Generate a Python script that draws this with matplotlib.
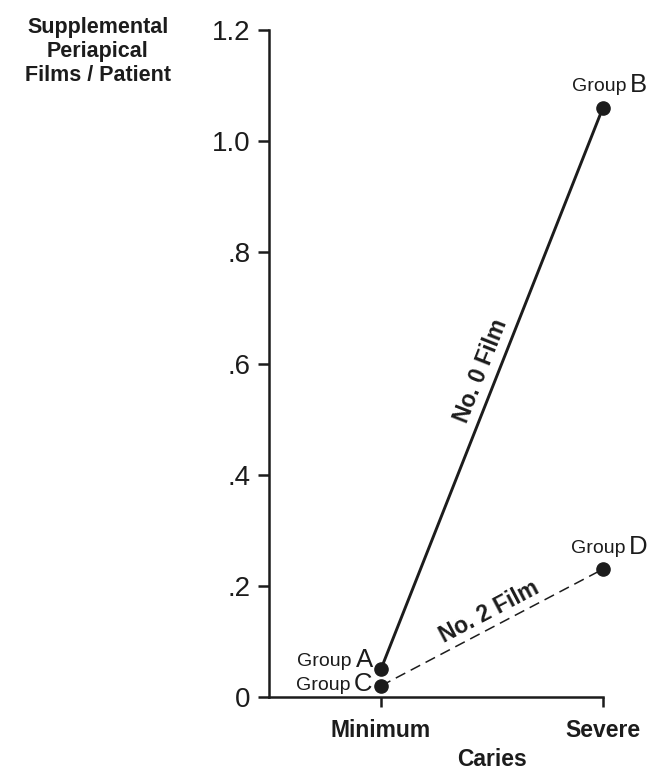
import numpy as np
import matplotlib
matplotlib.use("Agg")
import matplotlib.pyplot as plt
import matplotlib.transforms as mtransforms

# caries level on x, supplemental films per patient on y
caries = ["Minimum", "Severe"]
film0_groups = ["A", "B"]
film0_values = [0.05, 1.06]
film2_groups = ["C", "D"]
film2_values = [0.02, 0.23]
yticks = [0, 0.2, 0.4, 0.6, 0.8, 1.0, 1.2]
ytick_labels = ["0", ".2", ".4", ".6", ".8", "1.0", "1.2"]

ink = "#1c1c1c"
plt.rcParams["font.family"] = ["Liberation Sans", "DejaVu Sans"]
plt.rcParams["text.color"] = ink

fig = plt.figure(figsize=(6.51, 7.73), dpi=100)
ax = fig.add_axes([0.413, 0.0983, 0.513, 0.8627])

x = np.arange(1, len(caries) + 1)

ax.plot(x, film0_values, color=ink, lw=2.1, marker="o", ms=9.5, zorder=3,
        clip_on=False)
ax.plot(x, film2_values, color=ink, lw=1.1, ls=(0, (7, 4)), zorder=2,
        clip_on=False)
ax.plot(x, film2_values, ls="none", color=ink, marker="o", ms=9.5, zorder=3,
        clip_on=False)

ax.set_xlim(0.495, 2.0)
ax.set_ylim(0, 1.2)

for s in ["top", "right"]:
    ax.spines[s].set_visible(False)
for s in ["left", "bottom"]:
    ax.spines[s].set_linewidth(1.8)
    ax.spines[s].set_color(ink)

ax.set_yticks(yticks)
ax.set_yticklabels(ytick_labels, fontsize=20)
ax.set_xticks(x)
ax.set_xticklabels(caries, fontsize=16.5, fontweight="bold")
ax.tick_params(axis="y", length=8, width=1.8, pad=5, colors=ink)
ax.tick_params(axis="x", length=7.5, width=1.8, pad=8, colors=ink)

# axis title centred between the two categories, near the bottom edge
trans = mtransforms.blended_transform_factory(ax.transData, fig.transFigure)
ax.text(np.mean(x), 0.002, "Caries", transform=trans, ha="center", va="bottom",
        fontsize=16.5, fontweight="bold", clip_on=False)
fig.text(0.15, 0.978, "Supplemental\nPeriapical\nFilms / Patient", ha="center",
         va="top", fontsize=15.5, fontweight="bold", linespacing=1.2)


def group_label(xv, yv, letter, dx, dy):
    # big letter, small "Group" word in front of it
    t = ax.annotate(letter, (xv, yv), xytext=(dx, dy), textcoords="offset points",
                    ha="right", va="baseline", fontsize=18.5, annotation_clip=False)
    ax.annotate("Group", xy=(0, 0), xycoords=t, xytext=(-2.5, 1.5),
                textcoords="offset points", ha="right", va="bottom", fontsize=14)


group_label(x[0], film0_values[0], film0_groups[0], -6, 1.5)
group_label(x[1], film0_values[1], film0_groups[1], 32, 11.5)
group_label(x[0], film2_values[0], film2_groups[0], -6, -4)
group_label(x[1], film2_values[1], film2_groups[1], 32, 11)


def line_label(vals, text, frac, off):
    p0 = np.array([x[0], vals[0]])
    p1 = np.array([x[1], vals[1]])
    p = p0 + frac * (p1 - p0)
    ang = ax.transData.transform_angles(
        np.array([np.degrees(np.arctan2(p1[1] - p0[1], p1[0] - p0[0]))]),
        p.reshape(1, 2))[0]
    r = np.radians(ang)
    ax.annotate(text, p, xytext=(-off * np.sin(r), off * np.cos(r)),
                textcoords="offset points", ha="center", va="center",
                rotation=ang, rotation_mode="anchor", fontsize=16.5,
                fontweight="bold")


line_label(film0_values, "No. 0 Film", 0.52, 12)
line_label(film2_values, "No. 2 Film", 0.52, 11)

fig.savefig("out.png", dpi=100)
